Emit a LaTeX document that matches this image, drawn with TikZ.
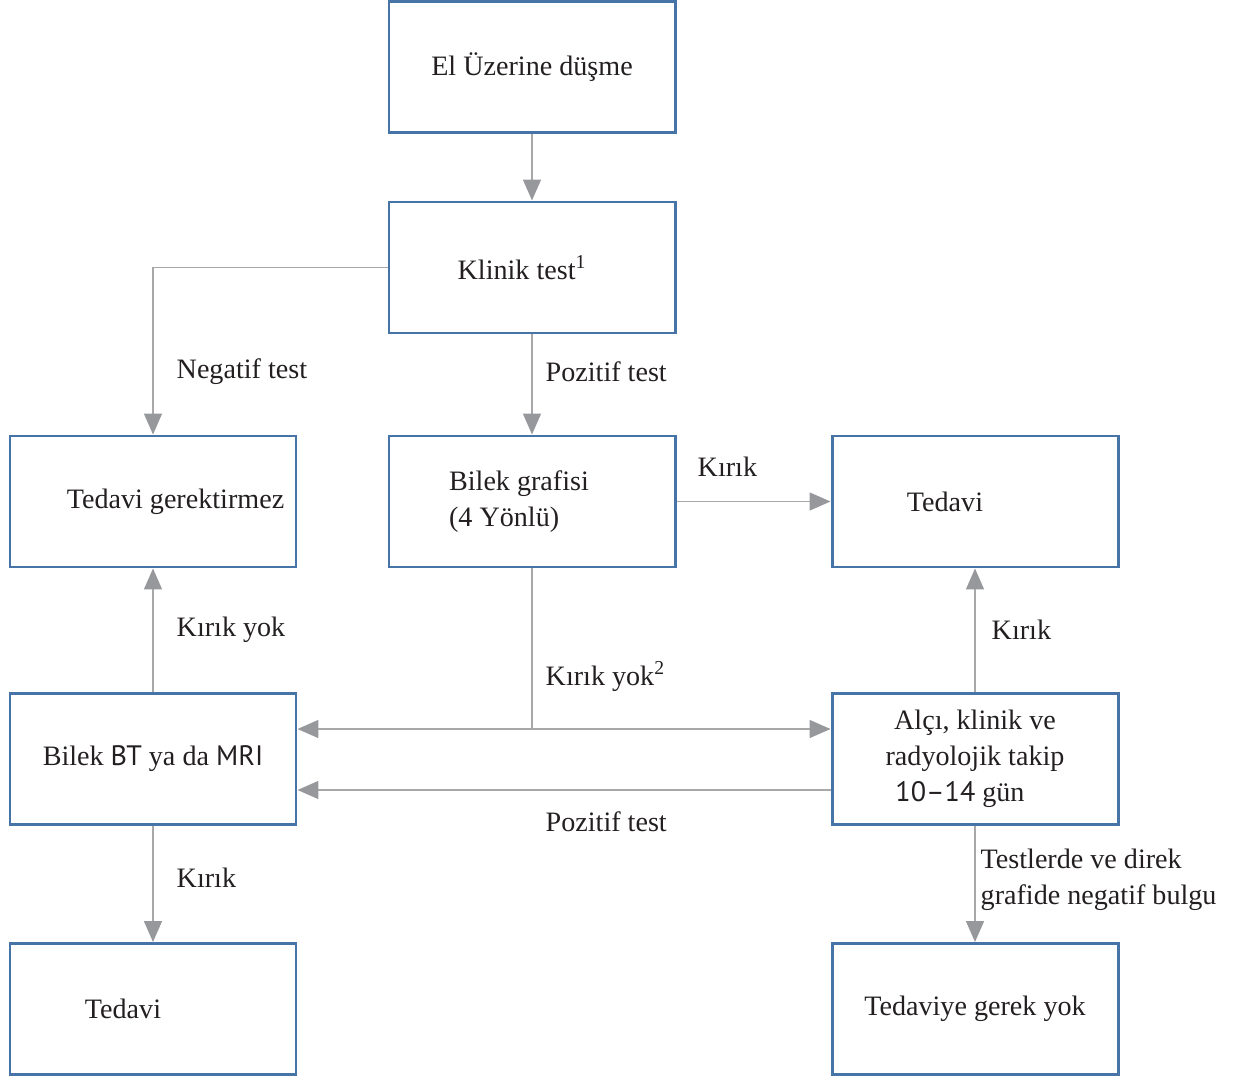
\documentclass[tikz,border=0pt]{standalone}
\usepackage{fontspec}
\setmainfont{Liberation Serif}
\setsansfont{PT Sans}
\usetikzlibrary{arrows.meta,positioning}

\definecolor{boxblue}{HTML}{4674A6}
\definecolor{linegray}{HTML}{A8A8A8}
\definecolor{tipgray}{HTML}{97989B}
\definecolor{textdark}{HTML}{231F20}

\begin{document}
\begin{tikzpicture}[
    box/.style={
      draw=boxblue,
      line width=1.7pt,
      minimum width=5.72cm,
      minimum height=2.62cm,
      align=center,
      text=textdark,
      font=\fontsize{16}{20.5}\selectfont
    },
    note/.style={
      anchor=west,
      align=left,
      text=textdark,
      font=\fontsize{16}{20.5}\selectfont
    },
    link/.style={draw=linegray, line width=0.9pt},
    >={Triangle[length=0.42cm,width=0.36cm,color=tipgray]}
  ]
    \useasboundingbox (0,0) rectangle (25,-21.54);

    \node[box] (fall) at (10.64,-1.34) {El Üzerine düşme};
    \node[box] (clinic) at (10.64,-5.35) {Klinik test\textsuperscript{1}\hspace*{0.4cm}};

    \node[box] (nofx) at (3.06,-10.03) {\hspace*{0.9cm}Tedavi gerektirmez};
    \node[box, align=left] (xray) at (10.64,-10.03) {Bilek grafisi\hspace*{0.52cm}\\(4 Yönlü)};
    \node[box] (treatR) at (19.5,-10.03) {Tedavi\hspace*{1.2cm}};

    \node[box] (ctmri) at (3.06,-15.18) {Bilek {\sffamily BT} ya da {\sffamily MRI}};
    \node[box] (cast) at (19.5,-15.18) {Alçı, klinik ve\\radyolojik takip\\{\sffamily 10--14} gün\hspace*{0.6cm}};

    \node[box] (treatL) at (3.06,-20.18) {Tedavi\hspace*{1.2cm}};
    \node[box] (noneed) at (19.5,-20.18) {Tedaviye gerek yok};

    \node[note] (negtest) at (3.41,-7.44) {Negatif test};
    \node[note] (postest) at (10.79,-7.44) {Pozitif test};
    \node[note] (fxtop) at (13.83,-9.34) {Kırık};
    \node[note] (nofxmid) at (10.79,-13.54) {Kırık yok\textsuperscript{2}};
    \node[note] (postest2) at (10.79,-16.44) {Pozitif test};
    \node[note] (nofxleft) at (3.41,-12.6) {Kırık yok};
    \node[note] (fxright) at (19.71,-12.6) {Kırık};
    \node[note] (fxleft) at (3.41,-17.56) {Kırık};
    \node[note] (negfind) at (19.49,-17.6) {Testlerde ve direk\\grafide negatif bulgu};

    \path ([yshift=0.6cm]ctmri.east) coordinate (hi);
    \coordinate (split) at (hi -| xray.south);

    \draw[link,->] (fall) -- (clinic);
    \draw[link,->] (clinic.west) -| (nofx.north);
    \draw[link,->] (clinic) -- (xray);
    \draw[link,->] (xray) -- (treatR);
    \draw[link] (xray.south) -- (split);
    \draw[link,->] (split) -- (hi);
    \draw[link,->] (split) -- (split -| cast.west);
    \draw[link,->] ([yshift=-0.62cm]cast.west) -- ([yshift=-0.62cm]ctmri.east);
    \draw[link,->] (ctmri) -- (nofx);
    \draw[link,->] (cast) -- (treatR);
    \draw[link,->] (ctmri) -- (treatL);
    \draw[link,->] (cast) -- (noneed);
  \end{tikzpicture}
\end{document}
